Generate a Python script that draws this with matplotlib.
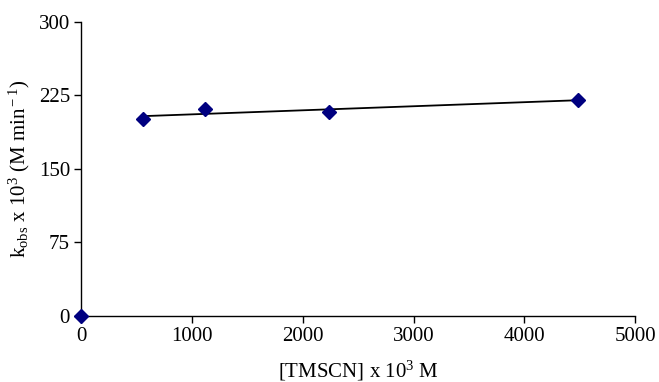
import numpy as np
import matplotlib
matplotlib.use("Agg")
import matplotlib.pyplot as plt

# data
conc = [0, 560, 1120, 2240, 4480]          # [TMSCN] x 10^3 M
kobs = [0, 200.7, 211.5, 207.9, 220.4]     # k_obs x 10^3

x_ticks = [0, 1000, 2000, 3000, 4000, 5000]
y_ticks = [0, 75, 150, 225, 300]

plt.rcParams["font.family"] = ["Liberation Serif", "DejaVu Serif"]
plt.rcParams["mathtext.fontset"] = "custom"
plt.rcParams["mathtext.rm"] = "Liberation Serif"
plt.rcParams["mathtext.it"] = "Liberation Serif:italic"
plt.rcParams["axes.unicode_minus"] = False

fig = plt.figure(figsize=(6.59, 3.82), dpi=100)
ax = fig.add_axes([0.123, 0.173, 0.841, 0.770])

ax.plot(conc, kobs, linestyle="none", marker="D", markersize=7.5,
        color="#000080", clip_on=False, zorder=3)

# linear trendline through the non-zero points
fx = np.array(conc[1:])
fy = np.array(kobs[1:])
m, b = np.polyfit(fx, fy, 1)
xl = np.array([fx.min(), fx.max()])
ax.plot(xl, m * xl + b, color="black", lw=1.3, zorder=2)

ax.set_xlim(0, 5000)
ax.set_ylim(0, 300)
ax.set_xticks(x_ticks)
ax.set_yticks(y_ticks)

for s in ["top", "right"]:
    ax.spines[s].set_visible(False)
for s in ["left", "bottom"]:
    ax.spines[s].set_linewidth(1.0)
ax.tick_params(direction="out", length=5, width=1.0, labelsize=15, pad=3)

ax.set_xlabel(r"[TMSCN] x 10$^3$ M", fontsize=15, labelpad=9)
ax.set_ylabel(r"k$_{\rm obs}$ x 10$^3$ (M min$^{\rm -1}$)", fontsize=15, labelpad=5)

fig.savefig("out.png", dpi=100)
